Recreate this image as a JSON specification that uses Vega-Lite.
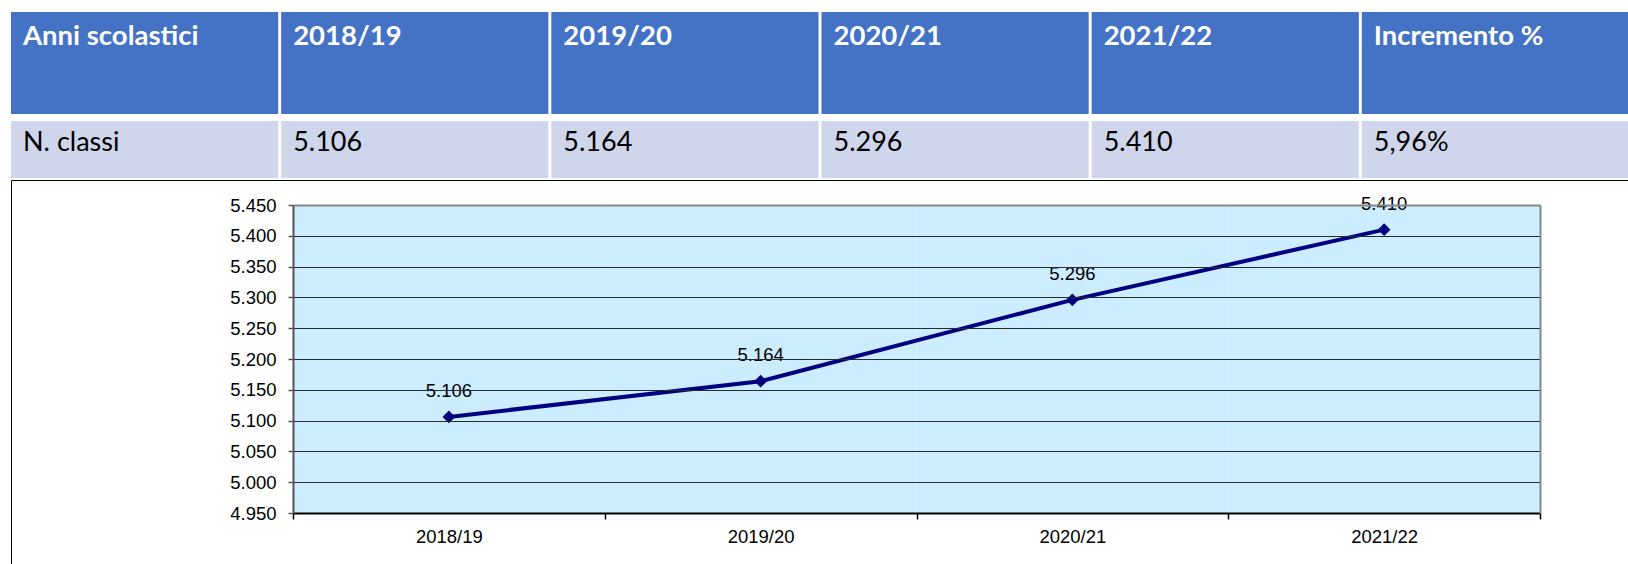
{
  "$schema": "https://vega.github.io/schema/vega-lite/v6.json",
  "padding": {"left": 10, "top": 12, "right": 0, "bottom": 0},
  "background": "white",
  "config": {
    "locale": {"number": {"decimal": ",", "thousands": ".", "grouping": [3], "currency": ["€", ""]}},
    "view": {"stroke": null}
  },
  "datasets": {
    "table": [
      {"col": "Anni scolastici", "header": "Anni scolastici", "value": "N. classi"},
      {"col": "2018/19", "header": "2018/19", "value": "5.106"},
      {"col": "2019/20", "header": "2019/20", "value": "5.164"},
      {"col": "2020/21", "header": "2020/21", "value": "5.296"},
      {"col": "2021/22", "header": "2021/22", "value": "5.410"},
      {"col": "Incremento %", "header": "Incremento %", "value": "5,96%"}
    ],
    "series": [
      {"anno": "2018/19", "classi": 5106},
      {"anno": "2019/20", "classi": 5164},
      {"anno": "2020/21", "classi": 5296},
      {"anno": "2021/22", "classi": 5410}
    ]
  },
  "spacing": 1,
  "vconcat": [
    {
      "spacing": 7,
      "vconcat": [
        {
          "width": 1618,
          "height": 102,
          "data": {"name": "table"},
          "layer": [
            {
              "mark": {"type": "rect", "color": "#4472C4"},
              "encoding": {
                "x": {"field": "col", "type": "nominal", "sort": null, "axis": null, "scale": {"paddingInner": 0.011, "paddingOuter": 0}}
              }
            },
            {
              "mark": {"type": "text", "align": "left", "baseline": "middle", "dx": 12, "dy": -26, "font": "Lato", "fontSize": 27.5, "fontWeight": "bold", "color": "#FFFFFF"},
              "encoding": {
                "x": {"field": "col", "type": "nominal", "sort": null, "bandPosition": 0, "axis": null},
                "text": {"field": "header"}
              }
            }
          ]
        },
        {
          "width": 1618,
          "height": 57,
          "data": {"name": "table"},
          "layer": [
            {
              "mark": {"type": "rect", "color": "#CFD5EA"},
              "encoding": {
                "x": {"field": "col", "type": "nominal", "sort": null, "axis": null, "scale": {"paddingInner": 0.011, "paddingOuter": 0}}
              }
            },
            {
              "mark": {"type": "text", "align": "left", "baseline": "middle", "dx": 12, "dy": -7, "font": "Lato", "fontSize": 27, "color": "#000000"},
              "encoding": {
                "x": {"field": "col", "type": "nominal", "sort": null, "bandPosition": 0, "axis": null},
                "text": {"field": "value"}
              }
            }
          ]
        }
      ]
    },
    {
      "width": 1619,
      "height": 386,
      "view": {"stroke": "#000000", "strokeWidth": 1},
      "data": {"name": "series"},
      "layer": [
        {
          "mark": {"type": "rect", "color": "#CCECFF"},
          "encoding": {
            "x": {
              "field": "anno", "type": "nominal", "sort": null,
              "scale": {"range": [282, 1529], "paddingInner": 0, "paddingOuter": 0},
              "axis": {"orient": "bottom", "offset": -53, "zindex": 1, "tickBand": "extent", "domainColor": "#000000", "domainWidth": 2, "tickColor": "#000000", "tickSize": 6, "tickWidth": 1.5, "labelPadding": 8, "labelAngle": 0, "labelFont": "Liberation Sans", "labelFontSize": 18.5, "labelColor": "#000000", "title": null, "grid": false}
            },
            "y": {
              "datum": 4950, "type": "quantitative",
              "scale": {"domain": [4950, 5450], "range": [333, 25], "nice": false, "zero": false},
              "axis": {"orient": "left", "offset": -282, "zindex": 1, "values": [4950, 5000, 5050, 5100, 5150, 5200, 5250, 5300, 5350, 5400, 5450], "format": ",d", "grid": true, "gridColor": "#2a2a2a", "gridWidth": 1, "domainColor": "#555555", "domainWidth": 2, "tickColor": "#555555", "tickSize": 5, "tickWidth": 1.5, "labelPadding": 12, "labelFont": "Liberation Sans", "labelFontSize": 18.5, "labelColor": "#000000", "title": null}
            },
            "y2": {"datum": 5450}
          }
        },
        {
          "mark": {"type": "line", "color": "#000080", "strokeWidth": 4},
          "encoding": {
            "x": {"field": "anno", "type": "nominal", "sort": null, "axis": {"orient": "top", "offset": -25, "zindex": 1, "domainColor": "#888888", "domainWidth": 2, "ticks": false, "labels": false, "grid": false, "title": null}},
            "y": {"field": "classi", "type": "quantitative", "axis": {"orient": "right", "offset": -90, "zindex": 1, "domainColor": "#888888", "domainWidth": 2, "ticks": false, "labels": false, "grid": false, "title": null}}
          }
        },
        {
          "mark": {"type": "point", "shape": "diamond", "filled": true, "color": "#000080", "size": 160, "opacity": 1},
          "encoding": {
            "x": {"field": "anno", "type": "nominal", "sort": null, "axis": null},
            "y": {"field": "classi", "type": "quantitative", "axis": null}
          }
        },
        {
          "mark": {"type": "text", "baseline": "middle", "dy": -26, "font": "Liberation Sans", "fontSize": 18.5, "color": "#000000"},
          "encoding": {
            "x": {"field": "anno", "type": "nominal", "sort": null, "axis": null},
            "y": {"field": "classi", "type": "quantitative", "axis": null},
            "text": {"field": "classi", "type": "quantitative", "format": ",d"}
          }
        }
      ],
      "resolve": {"axis": {"x": "independent", "y": "independent"}}
    }
  ]
}
